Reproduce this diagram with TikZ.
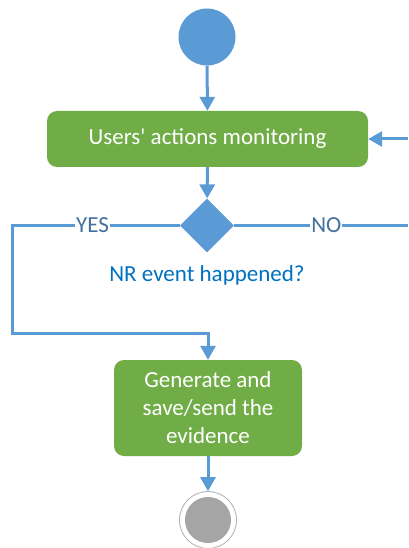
\documentclass[tikz,border=0pt]{standalone}
\usepackage{fontspec}
\setmainfont{Carlito}
\usepackage{xcolor}
\usetikzlibrary{shapes.geometric, positioning, arrows.meta}

\definecolor{flowblue}{HTML}{5B9BD5}
\definecolor{actiongreen}{HTML}{70AD47}
\definecolor{guardblue}{HTML}{41719C}
\definecolor{questblue}{HTML}{0070C0}
\definecolor{stopgray}{HTML}{A5A5A5}

\begin{document}
\begin{tikzpicture}[x=1pt,y=-1pt,
    action/.style={fill=actiongreen, rounded corners=10pt, text=white, inner sep=0, align=center, font=\fontsize{23}{28}\selectfont},
    flowline/.style={flowblue, line width=3pt},
    flow/.style={flowline, -{Triangle[length=14pt,width=15pt]}},
    guard/.style={fill=white, text=guardblue, inner sep=1pt, font=\fontsize{23}{24}\selectfont}]
    \useasboundingbox (0,0) rectangle (408,548);

    % nodes
    \node[circle, fill=flowblue, inner sep=0, minimum size=57pt] (start) at (207,37) {};
    \node[action, minimum width=321pt, minimum height=56pt] (monitor) at (207.5,139) {Users\textquotesingle{} actions monitoring};
    \node[diamond, fill=flowblue, inner sep=0, minimum size=54pt] (nr) at (207,225.5) {};
    \node[text=questblue, font=\fontsize{23}{26}\selectfont] (nrlab) at (207,275) {NR event happened?};
    \node[action, minimum width=188pt, minimum height=96pt] (evidence) at (208,408) {Generate and\\save/send the\\evidence};
    \node[circle, draw=stopgray!90, line width=0.8pt, inner sep=0, minimum size=57pt] (stop) at (208,520) {};
    \node[circle, fill=stopgray, inner sep=0, minimum size=46pt] (stopfill) at (stop) {};

    % free ends
    \coordinate (backin) at (408,139);
    \coordinate (noend) at (408,225.5);
    \coordinate (yescorner) at (12,225.5);
    \coordinate (yesdown) at (12,333);

    % lines and text
    \draw[flow] (start) -- (monitor);
    \draw[flow] (backin) -- (monitor.east);
    \draw[flow] (monitor) -- (nr);
    \draw[flowline] (nr.east) -- node[guard, pos=0.53] (nolab) {NO} (noend);
    \draw[flow] (nr.west) -- node[guard, pos=0.52] (yeslab) {YES} (yescorner) -- (yesdown) -| (evidence.north);
    \draw[flow] (evidence) -- (stop);
\end{tikzpicture}
\end{document}
